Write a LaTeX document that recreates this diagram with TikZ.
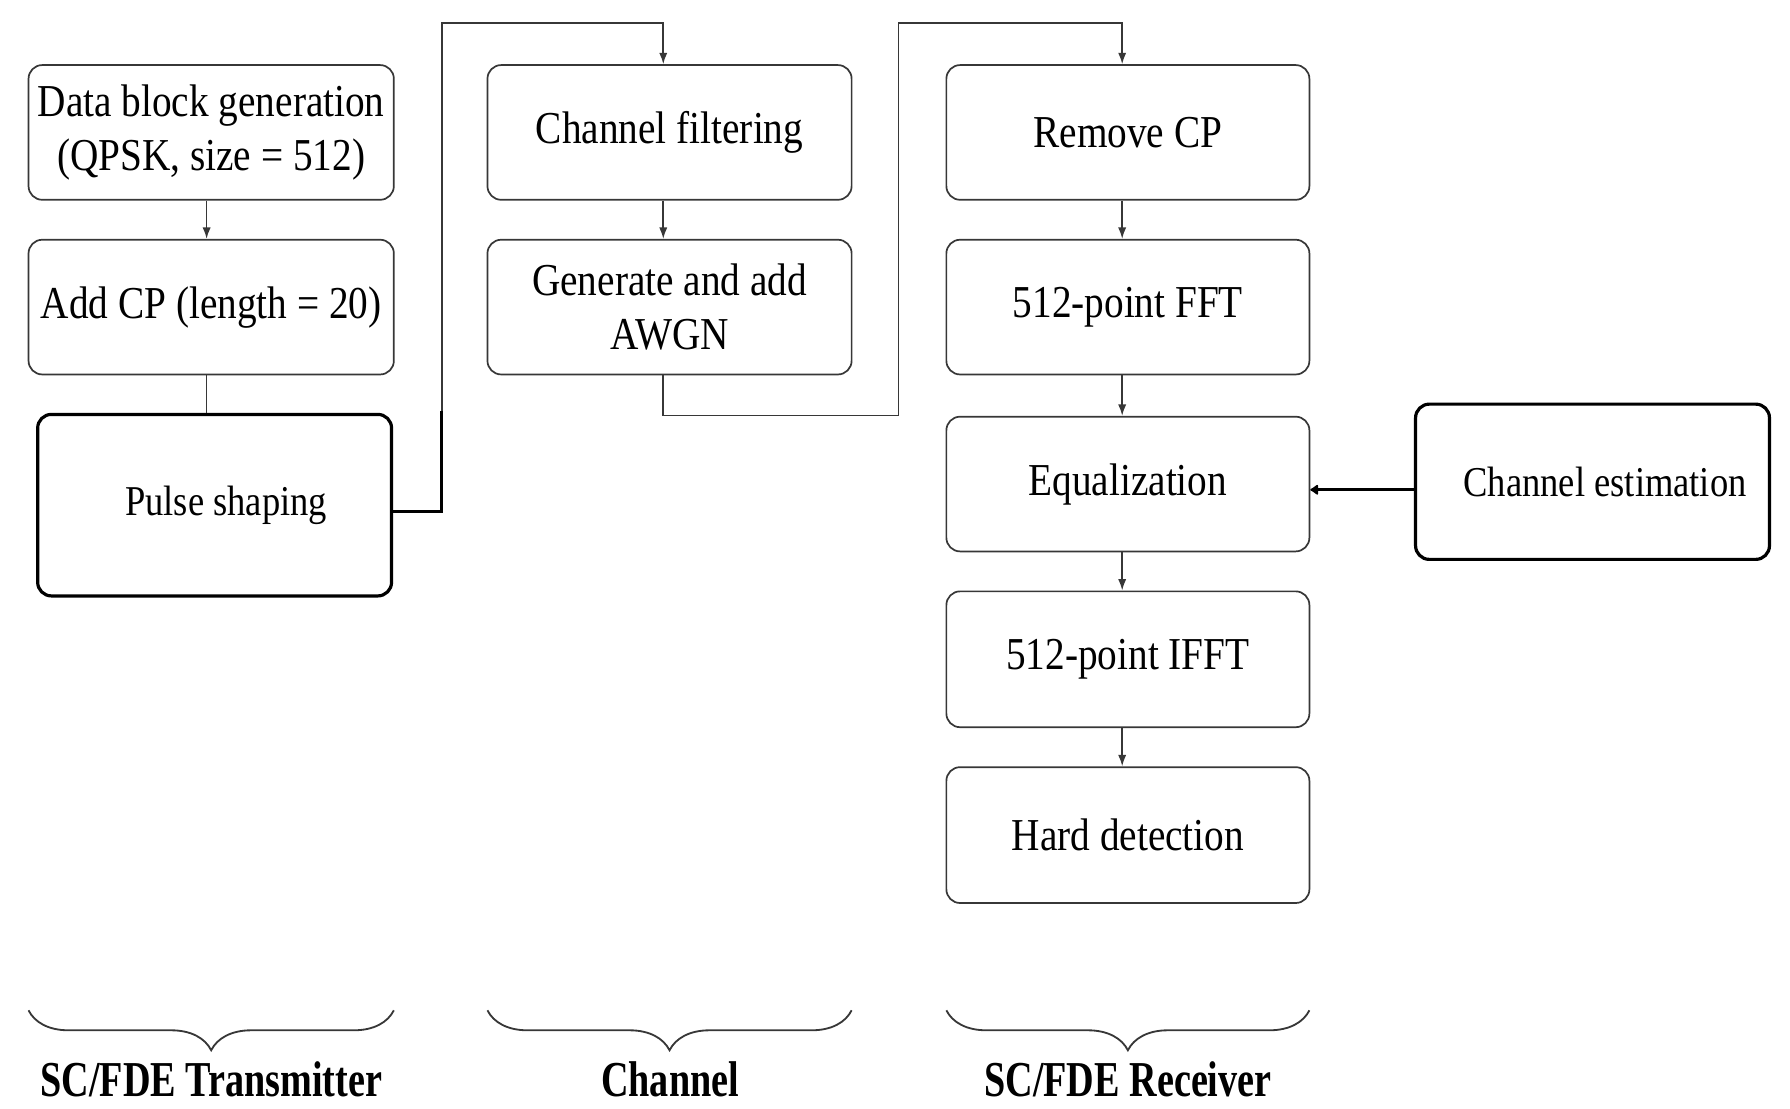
\documentclass[tikz,border=0pt]{standalone}
\usepackage{fontspec}
\setmainfont{Liberation Serif}[FakeStretch=0.86]
\newfontfamily\lblfont{Liberation Serif}[FakeStretch=0.76]
\usetikzlibrary{arrows.meta,decorations.pathreplacing,calc}
\definecolor{lncol}{RGB}{55,55,55}
\begin{document}
\begin{tikzpicture}[x=0.5pt,y=-0.5pt,
  box/.style={draw=lncol,line width=0.75pt,rounded corners=6pt,minimum width=160pt,minimum height=59pt,
    align=center,inner sep=0pt,font=\fontsize{20}{24}\selectfont},
  tbox/.style={box,draw=black,line width=1.4pt,font=\fontsize{18.6}{22}\selectfont},
  wire/.style={draw=lncol,line width=0.7pt},
  thickwire/.style={draw=black,line width=1.4pt},
  arr/.style={wire,-{Latex[length=5pt,width=3.6pt]}},
  thickarr/.style={thickwire,-{Latex[length=4pt,width=5.5pt,round]}},
  brc/.style={draw=lncol,line width=0.8pt,decorate,decoration={brace,mirror,amplitude=17.5pt}},
  lbl/.style={font=\lblfont\bfseries\fontsize{22}{26}\selectfont,inner sep=0pt}]
\useasboundingbox (0,0) rectangle (1568,971);

% transmitter
\node[box] (db) at (185,116) {Data block generation\\(QPSK, size = 512)};
\node[box] (cp) at (185,269) {Add CP (length = 20)};
\node[tbox,minimum width=155pt,minimum height=79.5pt] (ps) at (188,442.5) {\hspace*{10pt}Pulse shaping};

% channel
\node[box,minimum width=159.5pt] (cf) at (586.5,116) {Channel filtering};
\node[box,minimum width=159.5pt] (ga) at (586.5,269) {Generate and add\\AWGN};

% receiver
\node[box,minimum width=159pt] (rc) at (988,116) {Remove CP};
\node[box,minimum width=159pt] (fft) at (988,269) {512-point FFT};
\node[box,minimum width=159pt] (eq) at (988,424) {Equalization};
\node[box,minimum width=159pt,minimum height=59.5pt] (ifft) at (988,577.5) {512-point IFFT};
\node[box,minimum width=159pt,minimum height=59.5pt] (hd) at (988,731.5) {Hard detection};
\node[tbox,minimum width=155pt,minimum height=68pt] (ce) at (1395,422) {\hspace*{11pt}Channel estimation};

% transmitter connectors
\draw[arr] ([xshift=-2pt]db.south) -- ([xshift=-2pt]cp.north);
\draw[wire] ([xshift=-2pt]cp.south) -- ([xshift=-2pt]cp.south |- ps.north);

% pulse shaping -> channel
\coordinate (k1) at (387,20);
\coordinate (k2) at (387,360);
\draw[thickwire] ([yshift=-2.75pt]ps.east) -| (k2);
\draw[arr] (k2) -- (k1) -| ([xshift=-2.75pt]cf.north);
\draw[arr] ([xshift=-2.75pt]cf.south) -- ([xshift=-2.75pt]ga.north);

% channel -> receiver
\coordinate (k4) at (787,364);
\coordinate (k5) at (787,20);
\draw[arr] ([xshift=-2.75pt]ga.south) |- (k4) -- (k5) -| ([xshift=-2.5pt]rc.north);

% receiver chain
\draw[arr] ([xshift=-2.5pt]rc.south) -- ([xshift=-2.5pt]fft.north);
\draw[arr] ([xshift=-2.5pt]fft.south) -- ([xshift=-2.5pt]eq.north);
\draw[arr] ([xshift=-2.5pt]eq.south) -- ([xshift=-2.5pt]ifft.north);
\draw[arr] ([xshift=-2.5pt]ifft.south) -- ([xshift=-2.5pt]hd.north);
\draw[thickarr] ([yshift=-3.5pt]ce.west) -- ([yshift=-3.5pt]ce.west -| eq.east);

% braces
\coordinate (b1l) at (25,885);  \coordinate (b1r) at (345,885);
\coordinate (b2l) at (427,885); \coordinate (b2r) at (746,885);
\coordinate (b3l) at (829,885); \coordinate (b3r) at (1147,885);
\draw[brc] (b1l) -- (b1r);
\draw[brc] (b2l) -- (b2r);
\draw[brc] (b3l) -- (b3r);

\node[lbl] (l1) at (185,945) {SC/FDE Transmitter};
\node[lbl] (l2) at (587,945) {Channel};
\node[lbl] (l3) at (988,945) {SC/FDE Receiver};
\end{tikzpicture}
\end{document}
